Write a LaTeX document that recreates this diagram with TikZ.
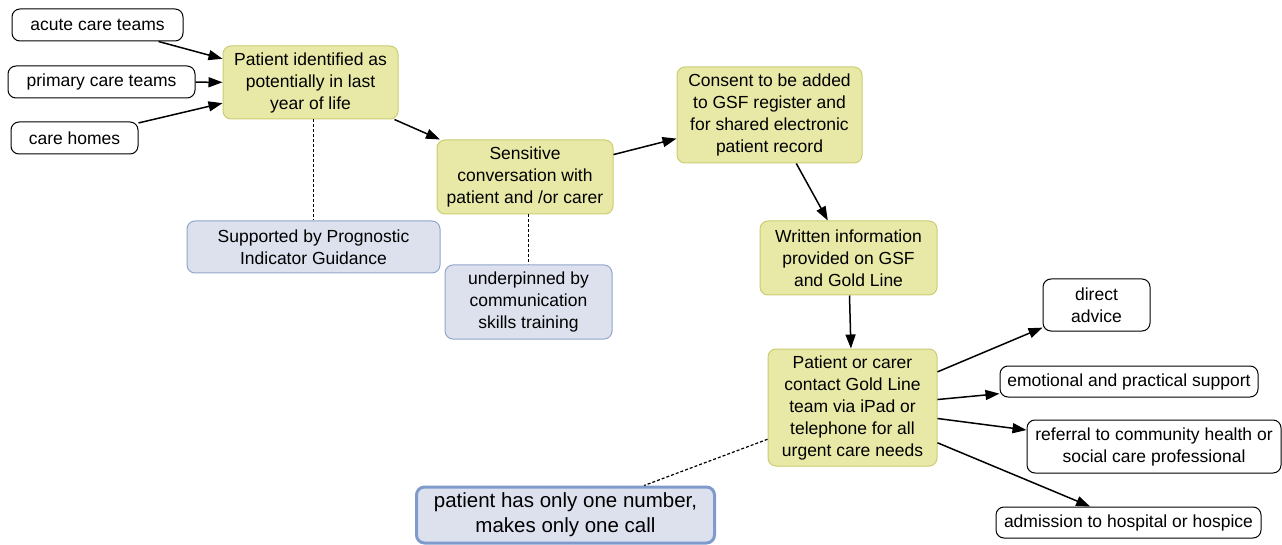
\documentclass[tikz,border=0pt]{standalone}
\usepackage{fontspec}
\setmainfont{Liberation Sans}
\usetikzlibrary{arrows.meta}
\definecolor{yelfill}{HTML}{E8E9A6}
\definecolor{yeldraw}{HTML}{CACD72}
\definecolor{blufill}{HTML}{DDE1EE}
\definecolor{bludraw}{HTML}{93A6CA}
\definecolor{bigdraw}{HTML}{7F9BCC}
\tikzset{
  box/.style={rounded corners=8pt, align=center, inner sep=0pt, font=\fontsize{17.5}{22}\selectfont},
  whitebox/.style={box, draw=black, line width=1pt, fill=white},
  yelbox/.style={box, draw=yeldraw, line width=1pt, fill=yelfill},
  blubox/.style={box, draw=bludraw, line width=1pt, fill=blufill},
  bigbox/.style={box, draw=bigdraw, line width=3pt, fill=blufill},
  arr/.style={line width=1.5pt, -{Triangle[length=14pt,width=10pt]}},
  dashline/.style={line width=1.2pt, dash pattern=on 3pt off 2pt},
}
\begin{document}
\begin{tikzpicture}[x=1pt,y=-1pt]
\useasboundingbox (0,0) rectangle (1282,545);
\node[whitebox, minimum width=171pt, minimum height=32pt] (acute) at (97.5,25) {acute care teams};
\node[whitebox, minimum width=187pt, minimum height=32pt] (primary) at (101.5,82) {primary care teams};
\node[whitebox, minimum width=127pt, minimum height=32pt] (care) at (74.5,138) {care homes};
\node[yelbox, minimum width=175pt, minimum height=73pt] (pid) at (310.5,82.5) {Patient identified as\\potentially in last\\year of life};
\node[blubox, minimum width=253pt, minimum height=52pt] (supp) at (313.5,247) {Supported by Prognostic\\Indicator Guidance};
\node[yelbox, minimum width=176pt, minimum height=74pt] (sens) at (525,177) {Sensitive\\conversation with\\patient and /or carer};
\node[blubox, minimum width=167pt, minimum height=74pt] (under) at (528.5,302) {underpinned by\\communication\\skills training};
\node[yelbox, minimum width=185pt, minimum height=96pt] (consent) at (769.5,115) {Consent to be added\\to GSF register and\\for shared electronic\\patient record};
\node[yelbox, minimum width=177pt, minimum height=74pt] (written) at (848.5,258) {Written information\\provided on GSF\\and Gold Line};
\node[yelbox, minimum width=169pt, minimum height=117pt] (contact) at (852.5,407.5) {Patient or carer\\contact Gold Line\\team via iPad or\\telephone for all\\urgent care needs};
\node[whitebox, minimum width=107pt, minimum height=52pt] (direct) at (1096.5,305) {direct\\advice};
\node[whitebox, minimum width=258pt, minimum height=31pt] (emot) at (1129,381.5) {emotional and practical support};
\node[whitebox, minimum width=254pt, minimum height=53pt] (referral) at (1154,446.5) {referral to community health or\\social care professional};
\node[whitebox, minimum width=265pt, minimum height=31pt] (admit) at (1128.5,522.5) {admission to hospital or hospice};
\node[bigbox, minimum width=298pt, minimum height=56pt, font=\fontsize{20.5}{25}\selectfont] (one) at (565.5,515) {patient has only one number,\\makes only one call};

\draw[arr] (acute) -- (pid);
\draw[arr] (primary) -- (pid);
\draw[arr] (care) -- (pid);
\draw[arr] (pid) -- (sens);
\draw[arr] (sens) -- (consent);
\draw[arr] (consent) -- (written);
\draw[arr] (written) -- (contact);
\draw[arr] (contact) -- (direct);
\draw[arr] (contact) -- (emot);
\draw[arr] (contact) -- (referral);
\draw[arr] (contact) -- (admit);
\draw[dashline] (pid.south -| supp.north) -- (supp.north);
\draw[dashline] (sens.south -| under.north) -- (under.north);
\draw[dashline] (contact) -- (one);
\end{tikzpicture}
\end{document}
